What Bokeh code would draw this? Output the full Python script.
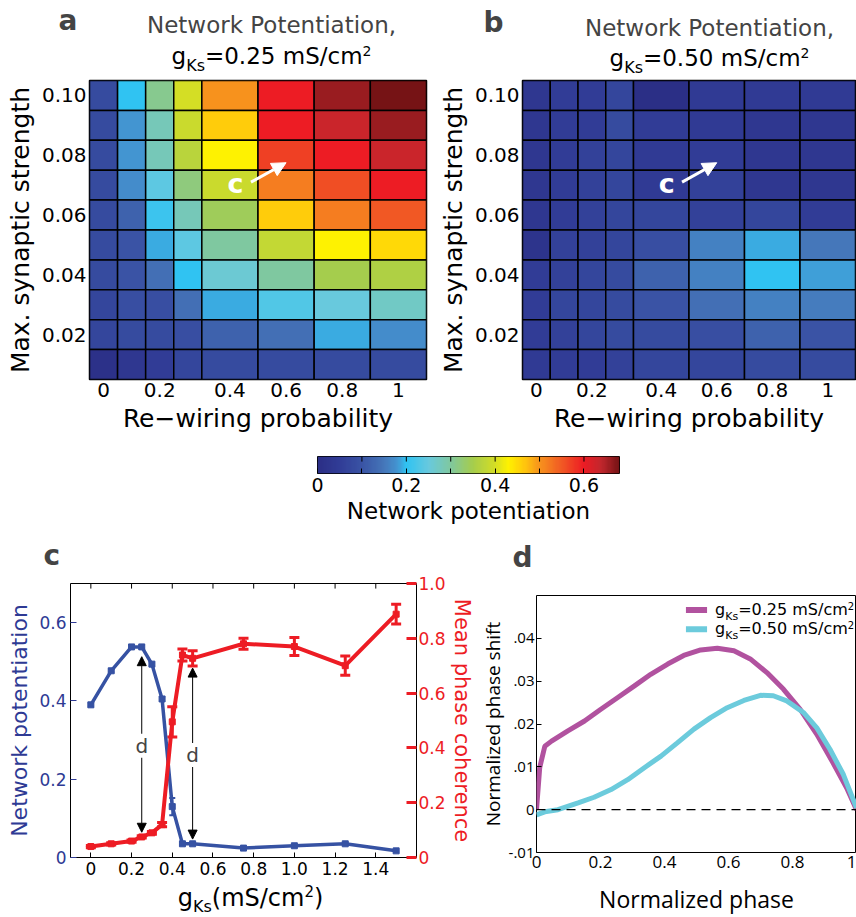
import numpy as np
from bokeh.plotting import figure
from bokeh.models import (ColumnDataSource, LinearColorMapper, Range1d, LinearAxis, FixedTicker,
                          Label, Arrow, NormalHead, TeeHead, Whisker, Span)
from bokeh.layouts import column, row
from bokeh.embed import file_html
from bokeh.resources import INLINE

# ---------------- data ----------------
rewiring = [0.0, 0.1, 0.2, 0.3, 0.4, 0.6, 0.8, 1.0]
strength = [0.10, 0.09, 0.08, 0.07, 0.06, 0.05, 0.04, 0.03, 0.02, 0.01]
x_tick_vals = [0.0, 0.2, 0.4, 0.6, 0.8, 1.0]
x_tick_labels = ["0", "0.2", "0.4", "0.6", "0.8", "1"]
y_tick_vals = [0.02, 0.04, 0.06, 0.08, 0.10]
y_tick_labels = ["0.02", "0.04", "0.06", "0.08", "0.10"]

pot_025 = [
    [0.08, 0.20, 0.31, 0.40, 0.50, 0.60, 0.66, 0.68],
    [0.08, 0.18, 0.28, 0.39, 0.46, 0.60, 0.63, 0.66],
    [0.08, 0.18, 0.28, 0.37, 0.43, 0.57, 0.60, 0.63],
    [0.08, 0.17, 0.24, 0.32, 0.39, 0.52, 0.56, 0.60],
    [0.08, 0.12, 0.21, 0.28, 0.34, 0.46, 0.52, 0.55],
    [0.08, 0.10, 0.19, 0.24, 0.30, 0.38, 0.43, 0.45],
    [0.08, 0.10, 0.14, 0.20, 0.26, 0.30, 0.35, 0.36],
    [0.07, 0.09, 0.09, 0.14, 0.19, 0.23, 0.25, 0.27],
    [0.07, 0.08, 0.08, 0.09, 0.12, 0.14, 0.19, 0.17],
    [0.01, 0.03, 0.05, 0.07, 0.08, 0.08, 0.08, 0.08]]
pot_050 = [
    [0.03, 0.05, 0.05, 0.07, 0.00, 0.04, 0.04, 0.04],
    [0.03, 0.05, 0.05, 0.08, 0.05, 0.04, 0.03, 0.03],
    [0.03, 0.05, 0.06, 0.07, 0.04, 0.05, 0.03, 0.03],
    [0.03, 0.05, 0.06, 0.07, 0.04, 0.06, 0.03, 0.03],
    [0.03, 0.05, 0.06, 0.07, 0.07, 0.06, 0.07, 0.05],
    [0.02, 0.06, 0.06, 0.07, 0.09, 0.16, 0.19, 0.15],
    [0.05, 0.06, 0.07, 0.08, 0.12, 0.16, 0.20, 0.185],
    [0.05, 0.07, 0.07, 0.08, 0.10, 0.14, 0.16, 0.155],
    [0.05, 0.06, 0.07, 0.08, 0.08, 0.09, 0.12, 0.10],
    [0.04, 0.05, 0.05, 0.06, 0.07, 0.07, 0.08, 0.08]]
marked_cell = (0.6, 0.08)   # point "c"

cbar_high = 0.68
cbar_ticks = [0.0, 0.2, 0.4, 0.6]
cbar_minor = [0.1, 0.3, 0.5]

gks = [0.0, 0.1, 0.2, 0.25, 0.3, 0.35, 0.4, 0.45, 0.5, 0.75, 1.0, 1.25, 1.5]
potentiation = [0.39, 0.477, 0.538, 0.538, 0.494, 0.405, 0.13, 0.035, 0.035, 0.024, 0.03, 0.035, 0.017]
potentiation_err = [0.004, 0.004, 0.004, 0.004, 0.004, 0.005, 0.022, 0.004, 0.004, 0.003, 0.003, 0.003, 0.003]
coherence = [0.04, 0.05, 0.06, 0.075, 0.09, 0.12, 0.495, 0.739, 0.727, 0.78, 0.77, 0.70, 0.888]
coherence_err = [0.004, 0.004, 0.004, 0.004, 0.005, 0.008, 0.055, 0.022, 0.028, 0.02, 0.033, 0.035, 0.036]
gks_ticks = [0, 0.2, 0.4, 0.6, 0.8, 1.0, 1.2, 1.4]
gks_tick_labels = ["0", "0.2", "0.4", "0.6", "0.8", "1.0", "1.2", "1.4"]
d_points = [0.25, 0.5]

phase_025 = [0.0, 0.01, 0.026, 0.047, 0.098, 0.15, 0.2, 0.254, 0.306, 0.357, 0.41, 0.46, 0.513,
             0.565, 0.617, 0.668, 0.72, 0.772, 0.824, 0.876, 0.927, 0.969, 1.0]
shift_025 = [0.0, 0.0098, 0.0148, 0.016, 0.0184, 0.0207, 0.0234, 0.0262, 0.0289, 0.0316, 0.034,
             0.036, 0.0373, 0.0377, 0.0371, 0.0352, 0.032, 0.0281, 0.0234, 0.0176, 0.0109, 0.0051, 0.0]
phase_050 = [0.0, 0.026, 0.067, 0.13, 0.18, 0.233, 0.285, 0.337, 0.389, 0.44, 0.492, 0.544, 0.596,
             0.648, 0.70, 0.74, 0.782, 0.834, 0.876, 0.917, 0.959, 1.0]
shift_050 = [-0.0012, -0.0005, 0.0, 0.0016, 0.0029, 0.0047, 0.007, 0.0098, 0.0125, 0.0156, 0.0188,
             0.0215, 0.0238, 0.0255, 0.0267, 0.0266, 0.0254, 0.0227, 0.0191, 0.0141, 0.0082, 0.0004]

# ---------------- style ----------------
FONT = "DejaVu Sans"
FONT_D = "Open Sans"
BLUE = "#3652a3"
BLUE_T = "#2e3a94"
RED = "#ed1c24"
PURPLE = "#b1529f"
CYAN = "#6ccbdc"
MID = 0.35   # distance (in em) from the baseline up to the middle of a text line

stops = [(0.00, "#2b2f86"), (0.05, "#313d97"), (0.10, "#3a54a5"), (0.15, "#4577ba"),
         (0.18, "#4396d2"), (0.20, "#30c3f2"), (0.25, "#68c9de"), (0.30, "#80c89e"),
         (0.35, "#a6cd4c"), (0.40, "#d4de25"), (0.43, "#fff200"), (0.47, "#ffc20e"),
         (0.50, "#f7941d"), (0.55, "#f15a24"), (0.60, "#ed1c24"), (0.64, "#c1272d"),
         (0.68, "#761315")]


def _rgb(h):
    return [int(h[i:i + 2], 16) for i in (1, 3, 5)]


palette = []
for i in range(256):
    v = i / 255 * cbar_high
    for (a, ca), (b, cb) in zip(stops[:-1], stops[1:]):
        if a <= v <= b:
            t = (v - a) / (b - a)
            c = [round(x + (y - x) * t) for x, y in zip(_rgb(ca), _rgb(cb))]
            palette.append("#%02x%02x%02x" % tuple(c))
            break
mapper = LinearColorMapper(palette=palette, low=0, high=cbar_high)

W = {' ': .318, '(': .390, ')': .390, ',': .318, '-': .361, '.': .318, '/': .337, '=': .838,
     'K': .656, 'M': .863, 'N': .748, 'P': .603, 'R': .695, 'S': .635, 'a': .613, 'b': .635,
     'c': .550, 'd': .635, 'e': .615, 'f': .352, 'g': .635, 'h': .634, 'i': .278, 'k': .579,
     'l': .278, 'm': .974, 'n': .634, 'o': .612, 'p': .635, 'r': .411, 's': .521, 't': .392,
     'w': .818, 'y': .592, 'z': .525}


def tw(s, size):
    return sum(W.get(ch, .636) for ch in s) * size


def rich(p, x, y, parts, dx=0.0, dy=0.0, align="center", color="black", font=FONT, yr="default"):
    """Text made of pieces (text, size, baseline shift); (x, y) + dy is the baseline."""
    total = sum(tw(t, s) for t, s, _ in parts)
    start = dx - (total / 2 if align == "center" else 0)
    for t, s, off in parts:
        p.add_layout(Label(x=x, y=y, x_offset=start, y_offset=dy + off + MID * s, text=t,
                           text_font=font, text_font_size=f"{s}px", text_color=color,
                           text_align="left", text_baseline="middle", y_range_name=yr))
        start += tw(t, s)


def base_fig(w, h, bl, br, bt, bb, xr, yr, **kw):
    p = figure(width=w, height=h, x_range=xr, y_range=yr, output_backend="svg",
               toolbar_location=None, min_border_left=bl, min_border_right=br,
               min_border_top=bt, min_border_bottom=bb, **kw)
    p.grid.visible = False
    p.outline_line_color = "black"
    p.outline_line_width = 1
    return p


def strip(w, h):
    """Text-only band: frame = whole band."""
    p = figure(width=w, height=h, x_range=Range1d(0, w), y_range=Range1d(0, h),
               output_backend="svg", toolbar_location=None,
               min_border_left=0, min_border_right=0, min_border_top=0, min_border_bottom=0)
    p.axis.visible = False
    p.grid.visible = False
    p.outline_line_color = None
    return p


def letter(p, h, x, y, t):
    p.add_layout(Label(x=x, y=h - y, y_offset=MID * 28, text=t, text_font=FONT,
                       text_font_size="28px", text_font_style="bold", text_baseline="middle"))


def style_axis(ax, size, lsize, color="black", font=FONT, tick_in=5, standoff=3, lstandoff=3):
    ax.axis_line_color = None
    ax.major_tick_line_color = color
    ax.major_tick_in = tick_in
    ax.major_tick_out = 0
    ax.minor_tick_line_color = None
    ax.major_label_text_font = font
    ax.major_label_text_font_size = f"{size}px"
    ax.major_label_text_color = color
    ax.major_label_standoff = standoff
    ax.axis_label_text_font = font
    ax.axis_label_text_font_size = f"{lsize}px"
    ax.axis_label_text_font_style = "normal"
    ax.axis_label_text_color = color
    ax.axis_label_standoff = lstandoff


# ---------------- titles band ----------------
TOP_H = 78
top = strip(856, TOP_H)
letter(top, TOP_H, 58, 30, "a")
letter(top, TOP_H, 483, 32, "b")
for cx, b1, b2, gv in [(271, 33, 64, "0.25"), (709, 36, 66, "0.50")]:
    top.add_layout(Label(x=cx, y=TOP_H - b1, y_offset=MID * 23, text="Network Potentiation,",
                         text_font=FONT, text_font_size="23px", text_align="center",
                         text_baseline="middle"))
    rich(top, cx, TOP_H - b2, [("g", 23, 0), ("Ks", 16, -7), ("=%s mS/cm" % gv, 23, 0), ("2", 14, 9)])

# ---------------- heatmaps ----------------
step = min(np.diff(rewiring))
widths = list(np.round(np.diff(rewiring) / step))
widths.append(widths[-1])
edges = np.concatenate([[0.0], np.cumsum(widths)])
centers = (edges[:-1] + edges[1:]) / 2
dys = (strength[0] - strength[1]) / 2


def col_center(val):
    return float(centers[int(np.argmin(np.abs(np.array(rewiring) - val)))])


def heatmap(vals, w, bl, br):
    L, R, B, T, V = [], [], [], [], []
    for r, s in enumerate(strength):
        for c in range(len(rewiring)):
            L.append(edges[c]); R.append(edges[c + 1])
            B.append(s - dys); T.append(s + dys); V.append(vals[r][c])
    src = ColumnDataSource(dict(left=L, right=R, bottom=B, top=T, v=V))
    p = base_fig(w, 362, bl, br, 2, 61, Range1d(0, float(edges[-1])),
                 Range1d(min(strength) - dys, max(strength) + dys))
    p.quad(left="left", right="right", bottom="bottom", top="top", source=src,
           fill_color={"field": "v", "transform": mapper}, line_color="black", line_width=1.5)
    p.outline_line_width = 1.5
    p.xaxis.ticker = FixedTicker(ticks=[col_center(v) for v in x_tick_vals])
    p.xaxis.major_label_overrides = {col_center(v): l for v, l in zip(x_tick_vals, x_tick_labels)}
    p.yaxis.ticker = FixedTicker(ticks=y_tick_vals)
    p.yaxis.major_label_overrides = {v: l for v, l in zip(y_tick_vals, y_tick_labels)}
    for ax in (p.xaxis[0], p.yaxis[0]):
        style_axis(ax, 20, 25, tick_in=0, standoff=3, lstandoff=4)
    p.xaxis.axis_label = "Re\u2212wiring probability"
    p.yaxis.axis_label = "Max. synaptic strength"
    # arrow "c"
    cx = col_center(marked_cell[0])
    cy = marked_cell[1]
    p.add_layout(Arrow(end=NormalHead(size=14, fill_color="white", line_color="white"),
                       x_start=cx - 1.25, y_start=cy - 0.009, x_end=cx, y_end=cy - 0.0025,
                       line_color="white", line_width=3))
    p.add_layout(Label(x=cx - 1.8, y=cy - 0.0095, text="c", text_font=FONT, text_font_size="27px",
                       text_font_style="bold", text_color="white", text_align="center",
                       text_baseline="middle"))
    return p


pa = heatmap(pot_025, 431, 89, 5)
pb = heatmap(pot_050, 425, 91, 1)

# ---------------- colorbar ----------------
pcb = base_fig(856, 100, 317, 237, 16, 67, Range1d(0, cbar_high), Range1d(0, 1), y_axis_location=None)
pcb.image(image=[np.linspace(0, cbar_high, 256)[None, :]], x=0, y=0, dw=cbar_high, dh=1,
          color_mapper=mapper)
pcb.xaxis.ticker = FixedTicker(ticks=cbar_ticks, minor_ticks=cbar_minor)
pcb.xaxis.major_label_overrides = {0.0: "0"}
style_axis(pcb.xaxis[0], 19, 23, tick_in=5, standoff=4, lstandoff=3)
pcb.xaxis.minor_tick_line_color = "black"
pcb.xaxis.minor_tick_in = 5
pcb.xaxis.minor_tick_out = 0
pcb.xaxis.axis_label = "Network potentiation"
all_cb = cbar_ticks + cbar_minor
pcb.segment(x0=all_cb, x1=all_cb, y0=[0.7] * len(all_cb), y1=[1.0] * len(all_cb),
            line_color="black", line_width=1)

# ---------------- letters band for c / d ----------------
MID_H = 35
mid = strip(856, MID_H)
letter(mid, MID_H, 43, 25, "c")
letter(mid, MID_H, 512, 27, "d")

# ---------------- panel c ----------------
pc = base_fig(476, 307, 70, 55, 8, 25, Range1d(-0.1, 1.6), Range1d(0, 0.7))
pc.extra_y_ranges = {"coh": Range1d(0, 1.0)}
src_c = ColumnDataSource(dict(x=gks, p=potentiation,
                              plo=[a - b for a, b in zip(potentiation, potentiation_err)],
                              phi=[a + b for a, b in zip(potentiation, potentiation_err)],
                              c=coherence,
                              clo=[a - b for a, b in zip(coherence, coherence_err)],
                              chi=[a + b for a, b in zip(coherence, coherence_err)]))
pc.line("x", "p", source=src_c, line_width=3.5, color=BLUE)
pc.add_layout(Whisker(source=src_c, base="x", lower="plo", upper="phi", line_color=BLUE, line_width=2,
                      lower_head=TeeHead(size=6, line_color=BLUE, line_width=2),
                      upper_head=TeeHead(size=6, line_color=BLUE, line_width=2)))
pc.scatter("x", "p", source=src_c, marker="square", size=6, color=BLUE)
pc.line("x", "c", source=src_c, line_width=4, color=RED, y_range_name="coh")
pc.add_layout(Whisker(source=src_c, base="x", lower="clo", upper="chi", line_color=RED, line_width=3,
                      y_range_name="coh",
                      lower_head=TeeHead(size=10, line_color=RED, line_width=3),
                      upper_head=TeeHead(size=10, line_color=RED, line_width=3)))
pc.scatter("x", "c", source=src_c, marker="square", size=6, color=RED, y_range_name="coh")

pc.xaxis.ticker = FixedTicker(ticks=gks_ticks)
pc.xaxis.major_label_overrides = dict(zip(gks_ticks, gks_tick_labels))
style_axis(pc.xaxis[0], 17, 22, tick_in=5, standoff=4)
pc.yaxis.ticker = FixedTicker(ticks=[0, 0.2, 0.4, 0.6])
pc.yaxis.major_label_overrides = {0: "0", 0.2: "0.2", 0.4: "0.4", 0.6: "0.6"}
style_axis(pc.yaxis[0], 17, 22, color=BLUE_T, tick_in=6, standoff=4, lstandoff=4)
pc.yaxis.axis_label = "Network potentiation"
right_c = LinearAxis(y_range_name="coh", ticker=FixedTicker(ticks=[0, 0.2, 0.4, 0.6, 0.8, 1.0]))
right_c.major_label_overrides = {0: "0", 0.2: "0.2", 0.4: "0.4", 0.6: "0.6", 0.8: "0.8", 1.0: "1.0"}
style_axis(right_c, 17, 21, color=RED, tick_in=10, standoff=2, lstandoff=1)
right_c.major_tick_line_width = 3
right_c.axis_label = "Mean phase coherence"
pc.add_layout(right_c, "right")
pc.segment(x0=gks_ticks, x1=gks_ticks, y0=[0.687] * len(gks_ticks), y1=[0.7] * len(gks_ticks),
           line_color="black", line_width=1)

for xd in d_points:
    i = gks.index(xd)
    top_y = max(potentiation[i], coherence[i] * 0.7)
    bot_y = min(potentiation[i], coherence[i] * 0.7)
    pc.add_layout(Arrow(start=NormalHead(size=9, fill_color="black", line_color="black"),
                        end=NormalHead(size=9, fill_color="black", line_color="black"),
                        x_start=xd, y_start=top_y - 0.025, x_end=xd, y_end=bot_y + 0.012,
                        line_color="black", line_width=1))
    pc.add_layout(Label(x=xd, y=(top_y + bot_y) / 2 - 0.01, text="d", text_font=FONT,
                        text_font_size="20px", text_align="center", text_baseline="middle",
                        background_fill_color="white"))

# ---------------- panel d ----------------
pdd = base_fig(380, 342, 56, 0, 20, 65, Range1d(0, 1), Range1d(-0.01, 0.05))
pdd.add_layout(Span(location=0, dimension="width", line_color="black", line_width=1.2,
                    line_dash="9 6"))
pdd.line(phase_025, shift_025, line_width=5, color=PURPLE)
pdd.line(phase_050, shift_050, line_width=5, color=CYAN)
pdd.xaxis.ticker = FixedTicker(ticks=[0, 0.2, 0.4, 0.6, 0.8, 1])
pdd.xaxis.major_label_overrides = {0: "0", 0.2: "0.2", 0.4: "0.4", 0.6: "0.6", 0.8: "0.8", 1: "1"}
style_axis(pdd.xaxis[0], 17, 23, font=FONT_D, tick_in=0, standoff=3, lstandoff=12)
pdd.xaxis.axis_label = "Normalized phase"
pdd.yaxis.ticker = FixedTicker(ticks=[-0.01, 0, 0.01, 0.02, 0.03, 0.04])
pdd.yaxis.major_label_overrides = {-0.01: "-.01", 0: "0", 0.01: ".01", 0.02: ".02",
                                   0.03: ".03", 0.04: ".04"}
style_axis(pdd.yaxis[0], 15, 19, font=FONT_D, tick_in=5, standoff=2, lstandoff=0)
pdd.yaxis.axis_label = "Normalized phase shift"
for k, (col, gv) in enumerate([(PURPLE, "0.25"), (CYAN, "0.50")]):
    yl = 0.0466 - k * 0.0045
    pdd.add_layout(Arrow(end=None, x_start=0.467, y_start=yl, x_end=0.533, y_end=yl,
                         line_color=col, line_width=6))
    rich(pdd, 0.558, yl, [("g", 16, 0), ("Ks", 11, -5), ("=%s mS/cm" % gv, 16, 0), ("2", 10, 6)],
         dy=-5, align="left")

# ---------------- x label band under panel c ----------------
BOT_H = 35
bot = strip(476, BOT_H)
rich(bot, 250, BOT_H - 24, [("g", 24, 0), ("Ks", 16, -6), ("(mS/cm", 24, 0), ("2", 15, 10), (")", 24, 0)])

# text bands are wrapped in their own rows so that their frames are not aligned with other plots
layout = column(row(top), row(pa, pb), row(pcb), row(mid),
                row(column(row(pc), row(bot)), pdd))
open("out.html", "w").write(file_html(layout, INLINE))
